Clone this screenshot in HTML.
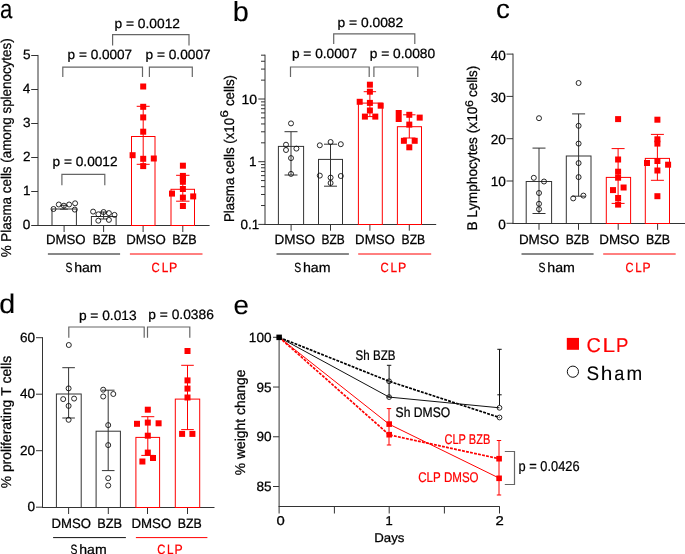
<!DOCTYPE html>
<html><head><meta charset="utf-8"><style>
html,body{margin:0;padding:0;background:#fff;}
svg{display:block;will-change:transform;}
text{font-family:"Liberation Sans", sans-serif;font-kerning:none;text-rendering:geometricPrecision;white-space:pre;}
</style></head><body>
<svg width="685" height="554" viewBox="0 0 685 554">
<rect width="685" height="554" fill="#fff"/>
<text transform="translate(-0.04,17.50) scale(0.8350,1)" font-size="26.58" fill="#000" stroke="#000" stroke-width="0.125">a</text>
<line x1="38.0" y1="54.94999999999999" x2="38.0" y2="225.8" stroke="#333" stroke-width="1"/>
<line x1="31.2" y1="225.5" x2="38" y2="225.5" stroke="#333" stroke-width="1"/>
<text transform="translate(22.87,229.00) scale(1.0200,1)" font-size="13.32" fill="#000" stroke="#000" stroke-width="0.250">0</text>
<line x1="31.2" y1="191.5" x2="38" y2="191.5" stroke="#333" stroke-width="1"/>
<text transform="translate(23.01,195.05) scale(1.0200,1)" font-size="13.32" fill="#000" stroke="#000" stroke-width="0.250">1</text>
<line x1="31.2" y1="157.5" x2="38" y2="157.5" stroke="#333" stroke-width="1"/>
<text transform="translate(23.03,161.10) scale(1.0200,1)" font-size="13.32" fill="#000" stroke="#000" stroke-width="0.250">2</text>
<line x1="31.2" y1="123.5" x2="38" y2="123.5" stroke="#333" stroke-width="1"/>
<text transform="translate(22.94,127.15) scale(1.0200,1)" font-size="13.32" fill="#000" stroke="#000" stroke-width="0.250">3</text>
<line x1="31.2" y1="89.5" x2="38" y2="89.5" stroke="#333" stroke-width="1"/>
<text transform="translate(22.74,93.20) scale(1.0200,1)" font-size="13.32" fill="#000" stroke="#000" stroke-width="0.250">4</text>
<line x1="31.2" y1="55.5" x2="38" y2="55.5" stroke="#333" stroke-width="1"/>
<text transform="translate(22.91,59.25) scale(1.0200,1)" font-size="13.32" fill="#000" stroke="#000" stroke-width="0.250">5</text>
<text transform="translate(10.80,257.28) rotate(-90) scale(0.9454,1)" font-size="14.18" fill="#000" stroke="#000" stroke-width="0.250">% Plasma cells (among splenocytes)</text>
<line x1="37.5" y1="225.5" x2="209.6" y2="225.5" stroke="#333" stroke-width="1"/>
<line x1="64.1" y1="225.5" x2="64.1" y2="232.0" stroke="#333" stroke-width="1"/>
<line x1="103.6" y1="225.5" x2="103.6" y2="232.0" stroke="#333" stroke-width="1"/>
<line x1="143.1" y1="225.5" x2="143.1" y2="232.0" stroke="#333" stroke-width="1"/>
<line x1="182.8" y1="225.5" x2="182.8" y2="232.0" stroke="#333" stroke-width="1"/>
<rect x="52.0" y="209.0" width="24.40" height="16.50" fill="none" stroke="#333" stroke-width="1"/>
<rect x="91.4" y="216.5" width="24.70" height="9.00" fill="none" stroke="#333" stroke-width="1"/>
<rect x="131.5" y="136.5" width="23.50" height="89.00" fill="none" stroke="#f00" stroke-width="1"/>
<rect x="171.0" y="189.3" width="23.50" height="36.20" fill="none" stroke="#f00" stroke-width="1"/>
<line x1="63.9" y1="205.3" x2="63.9" y2="209.2" stroke="#333" stroke-width="1"/>
<line x1="59.9" y1="205.3" x2="67.9" y2="205.3" stroke="#333" stroke-width="1"/>
<line x1="59.9" y1="209.2" x2="67.9" y2="209.2" stroke="#333" stroke-width="1"/>
<line x1="103.6" y1="212.0" x2="103.6" y2="219.0" stroke="#333" stroke-width="1"/>
<line x1="99.6" y1="212.0" x2="107.6" y2="212.0" stroke="#333" stroke-width="1"/>
<line x1="99.6" y1="219.0" x2="107.6" y2="219.0" stroke="#333" stroke-width="1"/>
<line x1="143.2" y1="106.3" x2="143.2" y2="164.3" stroke="#f00" stroke-width="1"/>
<line x1="136.7" y1="106.3" x2="149.7" y2="106.3" stroke="#f00" stroke-width="1"/>
<line x1="136.7" y1="164.3" x2="149.7" y2="164.3" stroke="#f00" stroke-width="1"/>
<line x1="182.8" y1="175.3" x2="182.8" y2="201.2" stroke="#f00" stroke-width="1"/>
<line x1="176.10000000000002" y1="175.3" x2="189.5" y2="175.3" stroke="#f00" stroke-width="1"/>
<line x1="176.10000000000002" y1="201.2" x2="189.5" y2="201.2" stroke="#f00" stroke-width="1"/>
<circle cx="53.5" cy="209" r="2.5" fill="none" stroke="#111" stroke-width="0.9"/>
<circle cx="58.8" cy="204.5" r="2.5" fill="none" stroke="#111" stroke-width="0.9"/>
<circle cx="63.9" cy="205.7" r="2.5" fill="none" stroke="#111" stroke-width="0.9"/>
<circle cx="69.1" cy="204.5" r="2.5" fill="none" stroke="#111" stroke-width="0.9"/>
<circle cx="75.1" cy="203.3" r="2.5" fill="none" stroke="#111" stroke-width="0.9"/>
<circle cx="74.8" cy="209.6" r="2.5" fill="none" stroke="#111" stroke-width="0.9"/>
<circle cx="93.1" cy="211.6" r="2.5" fill="none" stroke="#111" stroke-width="0.9"/>
<circle cx="98.4" cy="214.3" r="2.5" fill="none" stroke="#111" stroke-width="0.9"/>
<circle cx="103.6" cy="212" r="2.5" fill="none" stroke="#111" stroke-width="0.9"/>
<circle cx="108.9" cy="213.1" r="2.5" fill="none" stroke="#111" stroke-width="0.9"/>
<circle cx="114.5" cy="214.9" r="2.5" fill="none" stroke="#111" stroke-width="0.9"/>
<circle cx="98.3" cy="220.7" r="2.5" fill="none" stroke="#111" stroke-width="0.9"/>
<circle cx="108.9" cy="219.9" r="2.5" fill="none" stroke="#111" stroke-width="0.9"/>
<rect x="140.20" y="83.50" width="6" height="6" fill="#f00"/>
<rect x="140.20" y="103.80" width="6" height="6" fill="#f00"/>
<rect x="140.20" y="114.40" width="6" height="6" fill="#f00"/>
<rect x="140.20" y="128.70" width="6" height="6" fill="#f00"/>
<rect x="129.60" y="152.20" width="6" height="6" fill="#f00"/>
<rect x="140.20" y="155.80" width="6" height="6" fill="#f00"/>
<rect x="150.80" y="155.50" width="6" height="6" fill="#f00"/>
<rect x="140.20" y="163.10" width="6" height="6" fill="#f00"/>
<rect x="179.90" y="162.70" width="6" height="6" fill="#f00"/>
<rect x="179.90" y="172.90" width="6" height="6" fill="#f00"/>
<rect x="179.90" y="176.00" width="6" height="6" fill="#f00"/>
<rect x="179.90" y="178.80" width="6" height="6" fill="#f00"/>
<rect x="179.90" y="186.00" width="6" height="6" fill="#f00"/>
<rect x="169.00" y="190.60" width="6" height="6" fill="#f00"/>
<rect x="190.20" y="193.40" width="6" height="6" fill="#f00"/>
<rect x="179.90" y="194.60" width="6" height="6" fill="#f00"/>
<rect x="179.90" y="203.00" width="6" height="6" fill="#f00"/>
<polyline points="62.8,77.0 62.8,67.1 142.5,67.1 142.5,77.0" fill="none" stroke="#666" stroke-width="1.2"/>
<polyline points="149.4,77.0 149.4,67.1 192.3,67.1 192.3,77.0" fill="none" stroke="#666" stroke-width="1.2"/>
<polyline points="112.6,45.5 112.6,34.7 189.0,34.7 189.0,45.5" fill="none" stroke="#666" stroke-width="1.2"/>
<polyline points="61.9,185.2 61.9,174.4 104.8,174.4 104.8,185.2" fill="none" stroke="#666" stroke-width="1.2"/>
<text transform="translate(67.62,58.90) scale(1.0191,1)" font-size="13.32" fill="#000" stroke="#000" stroke-width="0.250">p = 0.0007</text>
<text transform="translate(145.52,58.90) scale(1.0288,1)" font-size="13.32" fill="#000" stroke="#000" stroke-width="0.250">p = 0.0007</text>
<text transform="translate(114.51,27.50) scale(1.0337,1)" font-size="13.32" fill="#000" stroke="#000" stroke-width="0.250">p = 0.0012</text>
<text transform="translate(52.62,166.10) scale(1.0256,1)" font-size="13.32" fill="#000" stroke="#000" stroke-width="0.250">p = 0.0012</text>
<text transform="translate(45.91,243.80) scale(0.9937,1)" font-size="13.32" fill="#000" stroke="#000" stroke-width="0.250">DMSO</text>
<text transform="translate(92.71,243.80) scale(0.9039,1)" font-size="13.32" fill="#000" stroke="#000" stroke-width="0.250">BZB</text>
<text transform="translate(126.22,243.80) scale(0.9911,1)" font-size="13.32" fill="#000" stroke="#000" stroke-width="0.250">DMSO</text>
<text transform="translate(172.17,243.80) scale(0.9454,1)" font-size="13.32" fill="#000" stroke="#000" stroke-width="0.250">BZB</text>
<line x1="47.9" y1="254.0" x2="120.1" y2="254.0" stroke="#111" stroke-width="1"/>
<line x1="129.9" y1="254.0" x2="202.5" y2="254.0" stroke="#f00" stroke-width="1"/>
<text transform="translate(65.43,272.10) scale(0.7778,1)" font-size="13.32" fill="#000" stroke="#000" stroke-width="0.250">S</text>
<text transform="translate(74.17,272.10) scale(1.0596,1)" font-size="13.32" fill="#000" stroke="#000" stroke-width="0.250">ham</text>
<text transform="translate(151.62,271.50) scale(0.8533,1)" font-size="13.32" fill="#f00" stroke="#f00" stroke-width="0.250">C</text>
<text transform="translate(161.73,271.50) scale(0.8852,1)" font-size="13.32" fill="#f00" stroke="#f00" stroke-width="0.250">L</text>
<text transform="translate(169.08,271.50) scale(0.9307,1)" font-size="13.32" fill="#f00" stroke="#f00" stroke-width="0.250">P</text>
<text transform="translate(232.84,21.00) scale(1.0473,1)" font-size="27.60" fill="#000" stroke="#000" stroke-width="0.120">b</text>
<line x1="265.0" y1="54.6745807281316" x2="265.0" y2="224.9" stroke="#333" stroke-width="1"/>
<line x1="258.3" y1="224.39999999999998" x2="265" y2="224.39999999999998" stroke="#333" stroke-width="1"/>
<line x1="258.3" y1="161.7" x2="265" y2="161.7" stroke="#333" stroke-width="1"/>
<line x1="258.3" y1="98.99999999999999" x2="265" y2="98.99999999999999" stroke="#333" stroke-width="1"/>
<line x1="261.0" y1="205.52541927186837" x2="265" y2="205.52541927186837" stroke="#333" stroke-width="1"/>
<line x1="261.0" y1="194.48449732907716" x2="265" y2="194.48449732907716" stroke="#333" stroke-width="1"/>
<line x1="261.0" y1="186.65083854373674" x2="265" y2="186.65083854373674" stroke="#333" stroke-width="1"/>
<line x1="261.0" y1="180.57458072813162" x2="265" y2="180.57458072813162" stroke="#333" stroke-width="1"/>
<line x1="261.0" y1="175.60991660094552" x2="265" y2="175.60991660094552" stroke="#333" stroke-width="1"/>
<line x1="261.0" y1="171.41235289110608" x2="265" y2="171.41235289110608" stroke="#333" stroke-width="1"/>
<line x1="261.0" y1="167.77625781560513" x2="265" y2="167.77625781560513" stroke="#333" stroke-width="1"/>
<line x1="261.0" y1="164.5689946581543" x2="265" y2="164.5689946581543" stroke="#333" stroke-width="1"/>
<line x1="261.0" y1="142.82541927186836" x2="265" y2="142.82541927186836" stroke="#333" stroke-width="1"/>
<line x1="261.0" y1="131.78449732907714" x2="265" y2="131.78449732907714" stroke="#333" stroke-width="1"/>
<line x1="261.0" y1="123.95083854373675" x2="265" y2="123.95083854373675" stroke="#333" stroke-width="1"/>
<line x1="261.0" y1="117.8745807281316" x2="265" y2="117.8745807281316" stroke="#333" stroke-width="1"/>
<line x1="261.0" y1="112.90991660094554" x2="265" y2="112.90991660094554" stroke="#333" stroke-width="1"/>
<line x1="261.0" y1="108.7123528911061" x2="265" y2="108.7123528911061" stroke="#333" stroke-width="1"/>
<line x1="261.0" y1="105.07625781560512" x2="265" y2="105.07625781560512" stroke="#333" stroke-width="1"/>
<line x1="261.0" y1="101.86899465815432" x2="265" y2="101.86899465815432" stroke="#333" stroke-width="1"/>
<line x1="261.0" y1="80.12541927186837" x2="265" y2="80.12541927186837" stroke="#333" stroke-width="1"/>
<line x1="261.0" y1="69.08449732907715" x2="265" y2="69.08449732907715" stroke="#333" stroke-width="1"/>
<line x1="261.0" y1="61.250838543736734" x2="265" y2="61.250838543736734" stroke="#333" stroke-width="1"/>
<line x1="261.0" y1="55.1745807281316" x2="265" y2="55.1745807281316" stroke="#333" stroke-width="1"/>
<text transform="translate(241.43,104.20) scale(1.0538,1)" font-size="13.32" fill="#000" stroke="#000" stroke-width="0.250">10</text>
<text transform="translate(249.11,166.20) scale(1.0200,1)" font-size="13.32" fill="#000" stroke="#000" stroke-width="0.250">1</text>
<text transform="translate(240.48,229.40) scale(1.0086,1)" font-size="13.32" fill="#000" stroke="#000" stroke-width="0.250">0.1</text>
<text transform="translate(0,0)"></text>
<line x1="264.0" y1="224.5" x2="436.2" y2="224.5" stroke="#333" stroke-width="1"/>
<line x1="291.1" y1="224.5" x2="291.1" y2="230.7" stroke="#333" stroke-width="1"/>
<line x1="330.5" y1="224.5" x2="330.5" y2="230.7" stroke="#333" stroke-width="1"/>
<line x1="369.9" y1="224.5" x2="369.9" y2="230.7" stroke="#333" stroke-width="1"/>
<line x1="409.3" y1="224.5" x2="409.3" y2="230.7" stroke="#333" stroke-width="1"/>
<rect x="278.4" y="146.4" width="25.20" height="78.10" fill="none" stroke="#333" stroke-width="1"/>
<rect x="318.5" y="159.4" width="24.00" height="65.10" fill="none" stroke="#333" stroke-width="1"/>
<rect x="358.4" y="103.1" width="23.90" height="121.40" fill="none" stroke="#f00" stroke-width="1"/>
<rect x="397.4" y="126.7" width="24.10" height="97.80" fill="none" stroke="#f00" stroke-width="1"/>
<line x1="291.0" y1="131.7" x2="291.0" y2="175.0" stroke="#333" stroke-width="1"/>
<line x1="284.5" y1="131.7" x2="297.5" y2="131.7" stroke="#333" stroke-width="1"/>
<line x1="284.5" y1="175.0" x2="297.5" y2="175.0" stroke="#333" stroke-width="1"/>
<line x1="330.5" y1="144.2" x2="330.5" y2="186.2" stroke="#333" stroke-width="1"/>
<line x1="324.0" y1="144.2" x2="337.0" y2="144.2" stroke="#333" stroke-width="1"/>
<line x1="324.0" y1="186.2" x2="337.0" y2="186.2" stroke="#333" stroke-width="1"/>
<line x1="369.9" y1="91.7" x2="369.9" y2="116.6" stroke="#f00" stroke-width="1"/>
<line x1="363.7" y1="91.7" x2="376.09999999999997" y2="91.7" stroke="#f00" stroke-width="1"/>
<line x1="363.7" y1="116.6" x2="376.09999999999997" y2="116.6" stroke="#f00" stroke-width="1"/>
<line x1="409.3" y1="114.8" x2="409.3" y2="138.0" stroke="#f00" stroke-width="1"/>
<line x1="403.1" y1="114.8" x2="415.5" y2="114.8" stroke="#f00" stroke-width="1"/>
<line x1="403.1" y1="138.0" x2="415.5" y2="138.0" stroke="#f00" stroke-width="1"/>
<circle cx="291" cy="123.4" r="2.5" fill="none" stroke="#111" stroke-width="0.9"/>
<circle cx="286" cy="144.7" r="2.5" fill="none" stroke="#111" stroke-width="0.9"/>
<circle cx="286" cy="150" r="2.5" fill="none" stroke="#111" stroke-width="0.9"/>
<circle cx="296.4" cy="148.6" r="2.5" fill="none" stroke="#111" stroke-width="0.9"/>
<circle cx="291" cy="158.1" r="2.5" fill="none" stroke="#111" stroke-width="0.9"/>
<circle cx="291" cy="173.9" r="2.5" fill="none" stroke="#111" stroke-width="0.9"/>
<circle cx="319.8" cy="145.3" r="2.5" fill="none" stroke="#111" stroke-width="0.9"/>
<circle cx="330.6" cy="142" r="2.5" fill="none" stroke="#111" stroke-width="0.9"/>
<circle cx="340.8" cy="144.2" r="2.5" fill="none" stroke="#111" stroke-width="0.9"/>
<circle cx="319.8" cy="175.6" r="2.5" fill="none" stroke="#111" stroke-width="0.9"/>
<circle cx="330.6" cy="177.6" r="2.5" fill="none" stroke="#111" stroke-width="0.9"/>
<circle cx="340.8" cy="176" r="2.5" fill="none" stroke="#111" stroke-width="0.9"/>
<circle cx="330.6" cy="183" r="2.5" fill="none" stroke="#111" stroke-width="0.9"/>
<rect x="366.90" y="81.70" width="6" height="6" fill="#f00"/>
<rect x="366.90" y="88.70" width="6" height="6" fill="#f00"/>
<rect x="356.70" y="98.80" width="6" height="6" fill="#f00"/>
<rect x="366.90" y="99.90" width="6" height="6" fill="#f00"/>
<rect x="377.70" y="102.70" width="6" height="6" fill="#f00"/>
<rect x="366.90" y="107.50" width="6" height="6" fill="#f00"/>
<rect x="361.90" y="113.60" width="6" height="6" fill="#f00"/>
<rect x="372.30" y="113.60" width="6" height="6" fill="#f00"/>
<rect x="395.70" y="110.00" width="6" height="6" fill="#f00"/>
<rect x="395.70" y="116.00" width="6" height="6" fill="#f00"/>
<rect x="406.30" y="111.80" width="6" height="6" fill="#f00"/>
<rect x="416.70" y="114.60" width="6" height="6" fill="#f00"/>
<rect x="406.30" y="121.60" width="6" height="6" fill="#f00"/>
<rect x="400.90" y="137.80" width="6" height="6" fill="#f00"/>
<rect x="411.70" y="137.80" width="6" height="6" fill="#f00"/>
<rect x="406.30" y="144.30" width="6" height="6" fill="#f00"/>
<polyline points="290.5,77.1 290.5,67.0 369.2,67.0 369.2,77.1" fill="none" stroke="#666" stroke-width="1.2"/>
<polyline points="373.9,77.1 373.9,67.0 417.8,67.0 417.8,77.1" fill="none" stroke="#666" stroke-width="1.2"/>
<polyline points="333.7,43.9 333.7,33.9 414.8,33.9 414.8,43.9" fill="none" stroke="#666" stroke-width="1.2"/>
<text transform="translate(337.51,27.30) scale(1.0385,1)" font-size="13.32" fill="#000" stroke="#000" stroke-width="0.250">p = 0.0082</text>
<text transform="translate(291.92,58.40) scale(1.0288,1)" font-size="13.32" fill="#000" stroke="#000" stroke-width="0.250">p = 0.0007</text>
<text transform="translate(369.71,58.40) scale(1.0328,1)" font-size="13.32" fill="#000" stroke="#000" stroke-width="0.250">p = 0.0080</text>
<text transform="translate(274.49,243.80) scale(1.0172,1)" font-size="13.32" fill="#000" stroke="#000" stroke-width="0.250">DMSO</text>
<text transform="translate(321.62,243.80) scale(0.8956,1)" font-size="13.32" fill="#000" stroke="#000" stroke-width="0.250">BZB</text>
<text transform="translate(355.11,243.80) scale(0.9937,1)" font-size="13.32" fill="#000" stroke="#000" stroke-width="0.250">DMSO</text>
<text transform="translate(401.61,243.80) scale(0.9081,1)" font-size="13.32" fill="#000" stroke="#000" stroke-width="0.250">BZB</text>
<line x1="276.5" y1="254.0" x2="348.9" y2="254.0" stroke="#111" stroke-width="1"/>
<line x1="358.2" y1="254.0" x2="431.2" y2="254.0" stroke="#f00" stroke-width="1"/>
<text transform="translate(294.13,272.10) scale(0.7822,1)" font-size="13.32" fill="#000" stroke="#000" stroke-width="0.250">S</text>
<text transform="translate(302.92,272.10) scale(1.0656,1)" font-size="13.32" fill="#000" stroke="#000" stroke-width="0.250">ham</text>
<text transform="translate(380.42,271.50) scale(0.8533,1)" font-size="13.32" fill="#f00" stroke="#f00" stroke-width="0.250">C</text>
<text transform="translate(390.53,271.50) scale(0.8852,1)" font-size="13.32" fill="#f00" stroke="#f00" stroke-width="0.250">L</text>
<text transform="translate(397.88,271.50) scale(0.9307,1)" font-size="13.32" fill="#f00" stroke="#f00" stroke-width="0.250">P</text>
<text transform="translate(234.00,221.99) rotate(-90) scale(0.9463,1)" font-size="14.04" fill="#000" stroke="#000" stroke-width="0.250">Plasma cells (x10</text>
<text transform="translate(228.20,117.57) rotate(-90) scale(1.1830,1)" font-size="11.17" fill="#000" stroke="#000" stroke-width="0.250">6</text>
<text transform="translate(234.00,106.07) rotate(-90) scale(0.9490,1)" font-size="14.04" fill="#000" stroke="#000" stroke-width="0.250">cells)</text>
<text transform="translate(496.03,17.50) scale(1.0384,1)" font-size="26.58" fill="#000" stroke="#000" stroke-width="0.125">c</text>
<line x1="513.0" y1="53.599999999999994" x2="513.0" y2="223.9" stroke="#333" stroke-width="1"/>
<line x1="506.5" y1="223.3" x2="513.0" y2="223.3" stroke="#333" stroke-width="1"/>
<text transform="translate(498.27,228.70) scale(1.0200,1)" font-size="13.32" fill="#000" stroke="#000" stroke-width="0.250">0</text>
<line x1="506.5" y1="181.0" x2="513.0" y2="181.0" stroke="#333" stroke-width="1"/>
<text transform="translate(490.71,186.40) scale(1.0200,1)" font-size="13.32" fill="#000" stroke="#000" stroke-width="0.250">10</text>
<line x1="506.5" y1="138.7" x2="513.0" y2="138.7" stroke="#333" stroke-width="1"/>
<text transform="translate(490.71,144.10) scale(1.0200,1)" font-size="13.32" fill="#000" stroke="#000" stroke-width="0.250">20</text>
<line x1="506.5" y1="96.4" x2="513.0" y2="96.4" stroke="#333" stroke-width="1"/>
<text transform="translate(490.71,101.80) scale(1.0200,1)" font-size="13.32" fill="#000" stroke="#000" stroke-width="0.250">30</text>
<line x1="506.5" y1="54.099999999999994" x2="513.0" y2="54.099999999999994" stroke="#333" stroke-width="1"/>
<text transform="translate(490.71,59.50) scale(1.0200,1)" font-size="13.32" fill="#000" stroke="#000" stroke-width="0.250">40</text>
<line x1="512.5" y1="223.5" x2="685" y2="223.5" stroke="#333" stroke-width="1"/>
<line x1="539.0" y1="223.5" x2="539.0" y2="229.8" stroke="#333" stroke-width="1"/>
<line x1="578.5" y1="223.5" x2="578.5" y2="229.8" stroke="#333" stroke-width="1"/>
<line x1="618.2" y1="223.5" x2="618.2" y2="229.8" stroke="#333" stroke-width="1"/>
<line x1="657.6" y1="223.5" x2="657.6" y2="229.8" stroke="#333" stroke-width="1"/>
<rect x="526.2" y="181.5" width="25.40" height="42.00" fill="none" stroke="#333" stroke-width="1"/>
<rect x="566.3" y="156.0" width="24.70" height="67.50" fill="none" stroke="#333" stroke-width="1"/>
<rect x="606.3" y="177.4" width="24.30" height="46.10" fill="none" stroke="#f00" stroke-width="1"/>
<rect x="645.3" y="158.4" width="24.20" height="65.10" fill="none" stroke="#f00" stroke-width="1"/>
<line x1="539.0" y1="148.1" x2="539.0" y2="213.5" stroke="#333" stroke-width="1"/>
<line x1="532.5" y1="148.1" x2="545.5" y2="148.1" stroke="#333" stroke-width="1"/>
<line x1="532.5" y1="213.5" x2="545.5" y2="213.5" stroke="#333" stroke-width="1"/>
<line x1="578.6" y1="113.9" x2="578.6" y2="196.2" stroke="#333" stroke-width="1"/>
<line x1="572.1" y1="113.9" x2="585.1" y2="113.9" stroke="#333" stroke-width="1"/>
<line x1="572.1" y1="196.2" x2="585.1" y2="196.2" stroke="#333" stroke-width="1"/>
<line x1="618.1" y1="148.6" x2="618.1" y2="203.4" stroke="#f00" stroke-width="1"/>
<line x1="611.6" y1="148.6" x2="624.6" y2="148.6" stroke="#f00" stroke-width="1"/>
<line x1="611.6" y1="203.4" x2="624.6" y2="203.4" stroke="#f00" stroke-width="1"/>
<line x1="657.4" y1="134.4" x2="657.4" y2="180.3" stroke="#f00" stroke-width="1"/>
<line x1="650.9" y1="134.4" x2="663.9" y2="134.4" stroke="#f00" stroke-width="1"/>
<line x1="650.9" y1="180.3" x2="663.9" y2="180.3" stroke="#f00" stroke-width="1"/>
<circle cx="539" cy="118.2" r="2.5" fill="none" stroke="#111" stroke-width="0.9"/>
<circle cx="533.8" cy="177.8" r="2.5" fill="none" stroke="#111" stroke-width="0.9"/>
<circle cx="544" cy="181.5" r="2.5" fill="none" stroke="#111" stroke-width="0.9"/>
<circle cx="539" cy="193" r="2.5" fill="none" stroke="#111" stroke-width="0.9"/>
<circle cx="539" cy="203.8" r="2.5" fill="none" stroke="#111" stroke-width="0.9"/>
<circle cx="539" cy="209.2" r="2.5" fill="none" stroke="#111" stroke-width="0.9"/>
<circle cx="578.6" cy="83" r="2.5" fill="none" stroke="#111" stroke-width="0.9"/>
<circle cx="578.6" cy="125.8" r="2.5" fill="none" stroke="#111" stroke-width="0.9"/>
<circle cx="578.6" cy="143.6" r="2.5" fill="none" stroke="#111" stroke-width="0.9"/>
<circle cx="578.6" cy="163.1" r="2.5" fill="none" stroke="#111" stroke-width="0.9"/>
<circle cx="578.6" cy="177.1" r="2.5" fill="none" stroke="#111" stroke-width="0.9"/>
<circle cx="573.2" cy="198.4" r="2.5" fill="none" stroke="#111" stroke-width="0.9"/>
<circle cx="583.4" cy="195.6" r="2.5" fill="none" stroke="#111" stroke-width="0.9"/>
<rect x="615.10" y="116.10" width="6" height="6" fill="#f00"/>
<rect x="615.10" y="156.50" width="6" height="6" fill="#f00"/>
<rect x="615.10" y="168.70" width="6" height="6" fill="#f00"/>
<rect x="615.10" y="174.70" width="6" height="6" fill="#f00"/>
<rect x="610.00" y="187.10" width="6" height="6" fill="#f00"/>
<rect x="620.60" y="184.50" width="6" height="6" fill="#f00"/>
<rect x="615.10" y="195.00" width="6" height="6" fill="#f00"/>
<rect x="615.10" y="201.60" width="6" height="6" fill="#f00"/>
<rect x="654.40" y="116.70" width="6" height="6" fill="#f00"/>
<rect x="654.40" y="136.30" width="6" height="6" fill="#f00"/>
<rect x="654.40" y="140.60" width="6" height="6" fill="#f00"/>
<rect x="644.00" y="160.00" width="6" height="6" fill="#f00"/>
<rect x="654.40" y="158.00" width="6" height="6" fill="#f00"/>
<rect x="665.10" y="161.70" width="6" height="6" fill="#f00"/>
<rect x="654.40" y="167.50" width="6" height="6" fill="#f00"/>
<rect x="654.40" y="193.20" width="6" height="6" fill="#f00"/>
<text transform="translate(518.90,243.80) scale(1.0094,1)" font-size="13.32" fill="#000" stroke="#000" stroke-width="0.250">DMSO</text>
<text transform="translate(565.81,243.80) scale(0.9039,1)" font-size="13.32" fill="#000" stroke="#000" stroke-width="0.250">BZB</text>
<text transform="translate(599.20,243.80) scale(1.0094,1)" font-size="13.32" fill="#000" stroke="#000" stroke-width="0.250">DMSO</text>
<text transform="translate(645.98,243.80) scale(0.9330,1)" font-size="13.32" fill="#000" stroke="#000" stroke-width="0.250">BZB</text>
<line x1="521.5" y1="254.0" x2="593.6" y2="254.0" stroke="#111" stroke-width="1"/>
<line x1="603.2" y1="254.0" x2="675.7" y2="254.0" stroke="#f00" stroke-width="1"/>
<text transform="translate(538.53,272.10) scale(0.7822,1)" font-size="13.32" fill="#000" stroke="#000" stroke-width="0.250">S</text>
<text transform="translate(547.32,272.10) scale(1.0656,1)" font-size="13.32" fill="#000" stroke="#000" stroke-width="0.250">ham</text>
<text transform="translate(625.43,271.50) scale(0.8359,1)" font-size="13.32" fill="#f00" stroke="#f00" stroke-width="0.250">C</text>
<text transform="translate(635.34,271.50) scale(0.8671,1)" font-size="13.32" fill="#f00" stroke="#f00" stroke-width="0.250">L</text>
<text transform="translate(642.54,271.50) scale(0.9117,1)" font-size="13.32" fill="#f00" stroke="#f00" stroke-width="0.250">P</text>
<text transform="translate(476.80,230.62) rotate(-90) scale(0.9753,1)" font-size="14.04" fill="#000" stroke="#000" stroke-width="0.250">B Lymphocytes (x10</text>
<text transform="translate(472.50,106.93) rotate(-90) scale(1.1054,1)" font-size="11.17" fill="#000" stroke="#000" stroke-width="0.250">6</text>
<text transform="translate(476.80,97.07) rotate(-90) scale(0.9586,1)" font-size="14.04" fill="#000" stroke="#000" stroke-width="0.250">cells)</text>
<text transform="translate(-0.70,312.90) scale(1.0659,1)" font-size="26.91" fill="#000" stroke="#000" stroke-width="0.124">d</text>
<line x1="42.5" y1="337.2" x2="42.5" y2="507.7" stroke="#333" stroke-width="1"/>
<line x1="36.0" y1="507.2" x2="42.5" y2="507.2" stroke="#333" stroke-width="1"/>
<text transform="translate(27.57,511.10) scale(1.0200,1)" font-size="13.32" fill="#000" stroke="#000" stroke-width="0.250">0</text>
<line x1="36.0" y1="450.7" x2="42.5" y2="450.7" stroke="#333" stroke-width="1"/>
<text transform="translate(20.01,454.60) scale(1.0200,1)" font-size="13.32" fill="#000" stroke="#000" stroke-width="0.250">20</text>
<line x1="36.0" y1="394.2" x2="42.5" y2="394.2" stroke="#333" stroke-width="1"/>
<text transform="translate(20.01,398.10) scale(1.0200,1)" font-size="13.32" fill="#000" stroke="#000" stroke-width="0.250">40</text>
<line x1="36.0" y1="337.7" x2="42.5" y2="337.7" stroke="#333" stroke-width="1"/>
<text transform="translate(20.01,341.60) scale(1.0200,1)" font-size="13.32" fill="#000" stroke="#000" stroke-width="0.250">60</text>
<line x1="42.0" y1="507.5" x2="214.5" y2="507.5" stroke="#333" stroke-width="1"/>
<line x1="68.6" y1="507.5" x2="68.6" y2="514.0" stroke="#333" stroke-width="1"/>
<line x1="108.3" y1="507.5" x2="108.3" y2="514.0" stroke="#333" stroke-width="1"/>
<line x1="147.5" y1="507.5" x2="147.5" y2="514.0" stroke="#333" stroke-width="1"/>
<line x1="187.5" y1="507.5" x2="187.5" y2="514.0" stroke="#333" stroke-width="1"/>
<rect x="56.4" y="394.0" width="24.80" height="113.50" fill="none" stroke="#333" stroke-width="1"/>
<rect x="96.1" y="431.2" width="24.30" height="76.30" fill="none" stroke="#333" stroke-width="1"/>
<rect x="135.9" y="437.4" width="23.70" height="70.10" fill="none" stroke="#f00" stroke-width="1"/>
<rect x="175.3" y="399.1" width="24.40" height="108.40" fill="none" stroke="#f00" stroke-width="1"/>
<line x1="68.6" y1="367.7" x2="68.6" y2="418.0" stroke="#333" stroke-width="1"/>
<line x1="62.3" y1="367.7" x2="74.89999999999999" y2="367.7" stroke="#333" stroke-width="1"/>
<line x1="62.3" y1="418.0" x2="74.89999999999999" y2="418.0" stroke="#333" stroke-width="1"/>
<line x1="108.2" y1="390.2" x2="108.2" y2="470.6" stroke="#333" stroke-width="1"/>
<line x1="101.9" y1="390.2" x2="114.5" y2="390.2" stroke="#333" stroke-width="1"/>
<line x1="101.9" y1="470.6" x2="114.5" y2="470.6" stroke="#333" stroke-width="1"/>
<line x1="147.8" y1="416.7" x2="147.8" y2="455.4" stroke="#f00" stroke-width="1"/>
<line x1="141.3" y1="416.7" x2="154.3" y2="416.7" stroke="#f00" stroke-width="1"/>
<line x1="141.3" y1="455.4" x2="154.3" y2="455.4" stroke="#f00" stroke-width="1"/>
<line x1="187.5" y1="365.3" x2="187.5" y2="429.6" stroke="#f00" stroke-width="1"/>
<line x1="181.2" y1="365.3" x2="193.8" y2="365.3" stroke="#f00" stroke-width="1"/>
<line x1="181.2" y1="429.6" x2="193.8" y2="429.6" stroke="#f00" stroke-width="1"/>
<circle cx="68.8" cy="345" r="2.5" fill="none" stroke="#111" stroke-width="0.9"/>
<circle cx="68.6" cy="388.4" r="2.5" fill="none" stroke="#111" stroke-width="0.9"/>
<circle cx="63.2" cy="399.1" r="2.5" fill="none" stroke="#111" stroke-width="0.9"/>
<circle cx="74.1" cy="398.6" r="2.5" fill="none" stroke="#111" stroke-width="0.9"/>
<circle cx="68.6" cy="405.9" r="2.5" fill="none" stroke="#111" stroke-width="0.9"/>
<circle cx="68.6" cy="419.8" r="2.5" fill="none" stroke="#111" stroke-width="0.9"/>
<circle cx="103.2" cy="389.7" r="2.5" fill="none" stroke="#111" stroke-width="0.9"/>
<circle cx="103.2" cy="396.5" r="2.5" fill="none" stroke="#111" stroke-width="0.9"/>
<circle cx="113.3" cy="394" r="2.5" fill="none" stroke="#111" stroke-width="0.9"/>
<circle cx="108.2" cy="425.1" r="2.5" fill="none" stroke="#111" stroke-width="0.9"/>
<circle cx="108.2" cy="445.1" r="2.5" fill="none" stroke="#111" stroke-width="0.9"/>
<circle cx="108.2" cy="478.2" r="2.5" fill="none" stroke="#111" stroke-width="0.9"/>
<circle cx="108.2" cy="485.5" r="2.5" fill="none" stroke="#111" stroke-width="0.9"/>
<rect x="144.80" y="406.70" width="6" height="6" fill="#f00"/>
<rect x="134.00" y="420.80" width="6" height="6" fill="#f00"/>
<rect x="144.80" y="419.60" width="6" height="6" fill="#f00"/>
<rect x="155.60" y="420.30" width="6" height="6" fill="#f00"/>
<rect x="144.80" y="432.70" width="6" height="6" fill="#f00"/>
<rect x="144.80" y="449.60" width="6" height="6" fill="#f00"/>
<rect x="139.40" y="458.50" width="6" height="6" fill="#f00"/>
<rect x="150.00" y="455.00" width="6" height="6" fill="#f00"/>
<rect x="184.50" y="348.00" width="6" height="6" fill="#f00"/>
<rect x="184.50" y="377.40" width="6" height="6" fill="#f00"/>
<rect x="184.50" y="385.60" width="6" height="6" fill="#f00"/>
<rect x="184.50" y="394.50" width="6" height="6" fill="#f00"/>
<rect x="179.10" y="430.90" width="6" height="6" fill="#f00"/>
<rect x="189.40" y="430.90" width="6" height="6" fill="#f00"/>
<polyline points="68.8,337.8 68.8,327.0 144.2,327.0 144.2,337.8" fill="none" stroke="#666" stroke-width="1.2"/>
<polyline points="147.5,337.8 147.5,327.0 189.8,327.0 189.8,337.8" fill="none" stroke="#666" stroke-width="1.2"/>
<text transform="translate(78.91,319.50) scale(1.0204,1)" font-size="13.47" fill="#000" stroke="#000" stroke-width="0.247">p = 0.013</text>
<text transform="translate(148.31,319.30) scale(1.0229,1)" font-size="13.47" fill="#000" stroke="#000" stroke-width="0.247">p = 0.0386</text>
<text transform="translate(51.52,528.10) scale(0.9780,1)" font-size="13.47" fill="#000" stroke="#000" stroke-width="0.247">DMSO</text>
<text transform="translate(97.25,528.10) scale(0.9476,1)" font-size="13.47" fill="#000" stroke="#000" stroke-width="0.247">BZB</text>
<text transform="translate(131.41,528.10) scale(0.9857,1)" font-size="13.47" fill="#000" stroke="#000" stroke-width="0.247">DMSO</text>
<text transform="translate(177.69,528.10) scale(0.9148,1)" font-size="13.47" fill="#000" stroke="#000" stroke-width="0.247">BZB</text>
<line x1="53.1" y1="537.6" x2="125.9" y2="537.6" stroke="#111" stroke-width="1"/>
<line x1="135.9" y1="537.6" x2="207.4" y2="537.6" stroke="#f00" stroke-width="1"/>
<text transform="translate(70.53,553.50) scale(0.7673,1)" font-size="13.47" fill="#000" stroke="#000" stroke-width="0.247">S</text>
<text transform="translate(79.24,553.50) scale(1.0453,1)" font-size="13.47" fill="#000" stroke="#000" stroke-width="0.247">ham</text>
<text transform="translate(157.13,553.50) scale(0.8339,1)" font-size="13.47" fill="#f00" stroke="#f00" stroke-width="0.247">C</text>
<text transform="translate(167.12,553.50) scale(0.8650,1)" font-size="13.47" fill="#f00" stroke="#f00" stroke-width="0.247">L</text>
<text transform="translate(174.38,553.50) scale(0.9095,1)" font-size="13.47" fill="#f00" stroke="#f00" stroke-width="0.247">P</text>
<text transform="translate(10.80,488.29) rotate(-90) scale(0.9780,1)" font-size="14.18" fill="#000" stroke="#000" stroke-width="0.250">% proliferating T cells</text>
<text transform="translate(233.52,313.60) scale(1.0423,1)" font-size="26.58" fill="#000" stroke="#000" stroke-width="0.125">e</text>
<line x1="279.1" y1="336.8" x2="279.1" y2="506.8" stroke="#333" stroke-width="1"/>
<line x1="273.0" y1="337.3" x2="279.1" y2="337.3" stroke="#333" stroke-width="1"/>
<text transform="translate(248.86,341.90) scale(1.0200,1)" font-size="13.32" fill="#000" stroke="#000" stroke-width="0.250">100</text>
<line x1="273.0" y1="387.035" x2="279.1" y2="387.035" stroke="#333" stroke-width="1"/>
<text transform="translate(256.45,391.64) scale(1.0200,1)" font-size="13.32" fill="#000" stroke="#000" stroke-width="0.250">95</text>
<line x1="273.0" y1="436.77" x2="279.1" y2="436.77" stroke="#333" stroke-width="1"/>
<text transform="translate(256.41,441.37) scale(1.0200,1)" font-size="13.32" fill="#000" stroke="#000" stroke-width="0.250">90</text>
<line x1="273.0" y1="486.505" x2="279.1" y2="486.505" stroke="#333" stroke-width="1"/>
<text transform="translate(256.45,491.11) scale(1.0200,1)" font-size="13.32" fill="#000" stroke="#000" stroke-width="0.250">85</text>
<line x1="278.6" y1="506.5" x2="499.8" y2="506.5" stroke="#333" stroke-width="1"/>
<line x1="279.1" y1="506.5" x2="279.1" y2="513.5" stroke="#333" stroke-width="1"/>
<line x1="334.4" y1="506.5" x2="334.4" y2="513.5" stroke="#333" stroke-width="1"/>
<line x1="389.2" y1="506.5" x2="389.2" y2="513.5" stroke="#333" stroke-width="1"/>
<line x1="444.4" y1="506.5" x2="444.4" y2="513.5" stroke="#333" stroke-width="1"/>
<line x1="499.5" y1="506.5" x2="499.5" y2="513.5" stroke="#333" stroke-width="1"/>
<text transform="translate(276.62,525.40) scale(1.1649,1)" font-size="12.75" fill="#000" stroke="#000" stroke-width="0.261">0</text>
<text transform="translate(385.41,525.40) scale(1.0186,1)" font-size="12.75" fill="#000" stroke="#000" stroke-width="0.261">1</text>
<text transform="translate(495.45,525.40) scale(1.1706,1)" font-size="12.75" fill="#000" stroke="#000" stroke-width="0.261">2</text>
<text transform="translate(374.21,541.60) scale(1.0502,1)" font-size="12.61" fill="#000" stroke="#000" stroke-width="0.264">Days</text>
<text transform="translate(245.00,475.20) rotate(-90) scale(0.9795,1)" font-size="14.18" fill="#000" stroke="#000" stroke-width="0.250">% weight change</text>
<polyline points="279.3,337.4 389.1,381.3 499.5,417.5" fill="none" stroke="#000" stroke-width="1.7" stroke-dasharray="2.9 1.2"/>
<polyline points="279.3,337.4 389.1,397.1 499.5,407.8" fill="none" stroke="#111" stroke-width="1.0"/>
<polyline points="279.3,337.4 389.1,424.2 499.3,478.2" fill="none" stroke="#f00" stroke-width="1.0"/>
<polyline points="279.3,337.4 389.1,434.8 499.3,458.8" fill="none" stroke="#f00" stroke-width="1.7" stroke-dasharray="2.9 1.2"/>
<line x1="389.1" y1="365.3" x2="389.1" y2="397.1" stroke="#111" stroke-width="1"/>
<line x1="386.90000000000003" y1="365.3" x2="391.3" y2="365.3" stroke="#111" stroke-width="1"/>
<line x1="386.90000000000003" y1="397.1" x2="391.3" y2="397.1" stroke="#111" stroke-width="1"/>
<line x1="499.5" y1="349.3" x2="499.5" y2="405.5" stroke="#111" stroke-width="1"/>
<line x1="497.3" y1="349.3" x2="501.7" y2="349.3" stroke="#111" stroke-width="1"/>
<line x1="497.3" y1="394.8" x2="501.7" y2="394.8" stroke="#111" stroke-width="1"/>
<line x1="389.0" y1="408.6" x2="389.0" y2="445.0" stroke="#f00" stroke-width="1"/>
<line x1="386.8" y1="408.6" x2="391.2" y2="408.6" stroke="#f00" stroke-width="1"/>
<line x1="386.8" y1="445.0" x2="391.2" y2="445.0" stroke="#f00" stroke-width="1"/>
<line x1="499.0" y1="440.5" x2="499.0" y2="495.0" stroke="#f00" stroke-width="1"/>
<line x1="496.8" y1="440.5" x2="501.2" y2="440.5" stroke="#f00" stroke-width="1"/>
<line x1="496.8" y1="495.0" x2="501.2" y2="495.0" stroke="#f00" stroke-width="1"/>
<rect x="276.4" y="334.6" width="5.5" height="5.5" fill="#000"/>
<circle cx="389.1" cy="381.3" r="2.4" fill="none" stroke="#111" stroke-width="0.9"/>
<circle cx="389.1" cy="397.1" r="2.4" fill="none" stroke="#111" stroke-width="0.9"/>
<circle cx="499.5" cy="417.5" r="2.4" fill="none" stroke="#111" stroke-width="0.9"/>
<circle cx="499.5" cy="407.8" r="2.4" fill="none" stroke="#111" stroke-width="0.9"/>
<rect x="386.40" y="421.30" width="5.6" height="5.6" fill="#f00"/>
<rect x="386.40" y="431.90" width="5.6" height="5.6" fill="#f00"/>
<rect x="496.30" y="455.90" width="5.6" height="5.6" fill="#f00"/>
<rect x="496.30" y="475.50" width="5.6" height="5.6" fill="#f00"/>
<text transform="translate(355.58,360.30) scale(0.8319,1)" font-size="13.90" fill="#000" stroke="#000" stroke-width="0.239">Sh BZB</text>
<text transform="translate(395.55,416.60) scale(0.8734,1)" font-size="13.90" fill="#000" stroke="#000" stroke-width="0.239">Sh DMSO</text>
<text transform="translate(444.44,443.50) scale(0.7833,1)" font-size="14.04" fill="#f00" stroke="#f00" stroke-width="0.237">CLP BZB</text>
<text transform="translate(418.21,481.70) scale(0.8242,1)" font-size="14.04" fill="#f00" stroke="#f00" stroke-width="0.237">CLP DMSO</text>
<polyline points="504.8,451.5 514.5,451.5 514.5,484.5 504.8,484.5" fill="none" stroke="#666" stroke-width="1.2"/>
<text transform="translate(518.47,470.70) scale(0.8969,1)" font-size="14.33" fill="#000" stroke="#000" stroke-width="0.232">p = 0.0426</text>
<rect x="566.8" y="337.9" width="12.2" height="11.9" fill="#f00"/>
<text transform="translate(586.39,352.40) scale(0.9919,1)" font-size="20.06" fill="#f00" stroke="#f00" stroke-width="0.166">C</text>
<text transform="translate(602.54,352.40) scale(1.1308,1)" font-size="20.06" fill="#f00" stroke="#f00" stroke-width="0.166">L</text>
<text transform="translate(616.07,352.40) scale(0.9274,1)" font-size="20.06" fill="#f00" stroke="#f00" stroke-width="0.166">P</text>
<circle cx="572.9" cy="371.7" r="5.6" fill="none" stroke="#111" stroke-width="1.0"/>
<text transform="translate(586.54,379.60) scale(0.9647,1)" font-size="19.63" fill="#000" stroke="#000" stroke-width="0.102">S</text>
<text transform="translate(600.85,379.60) scale(1.0628,1)" font-size="19.63" fill="#000" stroke="#000" stroke-width="0.102">h</text>
<text transform="translate(614.13,379.60) scale(0.9224,1)" font-size="19.63" fill="#000" stroke="#000" stroke-width="0.102">a</text>
<text transform="translate(626.45,379.60) scale(0.9598,1)" font-size="19.63" fill="#000" stroke="#000" stroke-width="0.102">m</text>
</svg>
</body></html>
